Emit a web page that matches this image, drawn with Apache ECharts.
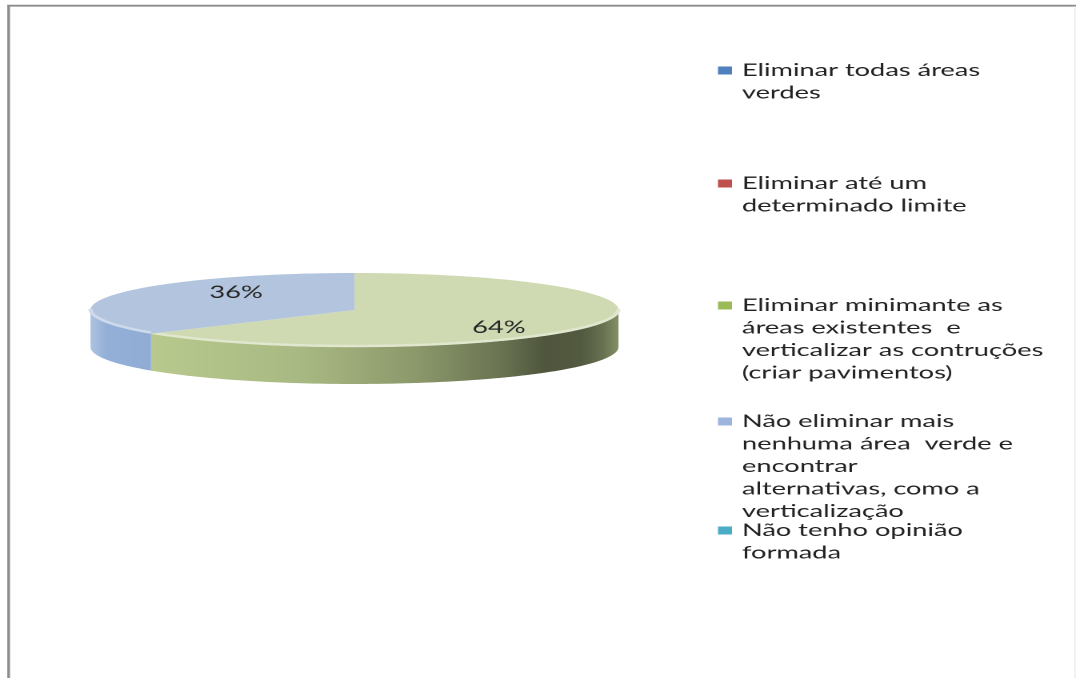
<!DOCTYPE html>
<html>
<head>
<meta charset="utf-8">
<script src="https://cdn.jsdelivr.net/npm/echarts@6/dist/echarts.min.js"></script>
<style>
  html, body { margin: 0; padding: 0; background: #fff; overflow: hidden; }
  #wrap { width: 1076px; height: 678px; overflow: hidden; position: relative; }
  #chart { position: absolute; left: 0; top: 0; height: 678px; transform-origin: 0 0; }
</style>
</head>
<body>
<div id="wrap"><div id="chart"></div></div>
<script>
// Survey answers, wrapped the way the legend shows them
const categoryLines = [
  ['Eliminar todas áreas', 'verdes'],
  ['Eliminar até um', 'determinado limite'],
  ['Eliminar minimante as', 'áreas existentes  e', 'verticalizar as contruções', '(criar pavimentos)'],
  ['Não eliminar mais', 'nenhuma área  verde e', 'encontrar', 'alternativas, como a', 'verticalização'],
  ['Não tenho opinião', 'formada']
];
const categories = categoryLines.map(l => l.join(' '));
const values = [0, 0, 64, 36, 0];

const legendColors = ['#4f81bd', '#c0504d', '#9bbb59', '#9db5dc', '#4bacc6'];
const topColors    = ['#a7bfe0', '#e0a9a8', '#cfdab3', '#b3c5de', '#a6d5e2'];
const sideColors   = ['#7d9fcf', '#cf7b79', '#bccd91', '#94b0d8', '#7bc1d5'];

// The whole drawing is stretched horizontally by this factor
const S = 1.6;
const X = v => v / S;

const total = values.reduce((a, b) => a + b, 0);
const cumulative = values.map((v, i) => values.slice(0, i).reduce((a, b) => a + b, 0));

// Flattened disc geometry (canvas px before stretching)
const CX = X(354.5), CY = 310, RX = X(264), RY = 37, DEPTH = 37;

function pt(deg, dy) {
  const r = deg * Math.PI / 180;
  return [CX + RX * Math.sin(r), CY - RY * Math.cos(r) + (dy || 0)];
}
function arc(a, b, dy) {
  const pts = [];
  const n = Math.max(2, Math.ceil(Math.abs(b - a)));
  for (let k = 0; k <= n; k++) pts.push(pt(a + (b - a) * k / n, dy));
  return pts;
}
function shade(hex, f) {
  const n = parseInt(hex.slice(1), 16);
  const ch = [(n >> 16) & 255, (n >> 8) & 255, n & 255].map(c => {
    const v = f >= 1 ? c + (255 - c) * (f - 1) * 2 : c * f;
    return Math.max(0, Math.min(255, Math.round(v)));
  });
  return 'rgb(' + ch.join(',') + ')';
}
function mixWhite(hex, t) {
  const n = parseInt(hex.slice(1), 16);
  const ch = [(n >> 16) & 255, (n >> 8) & 255, n & 255].map(c => Math.round(c + (255 - c) * t));
  return 'rgb(' + ch.join(',') + ')';
}
const sideStops = [[0, 1.12], [0.03, 1.0], [0.12, 0.98], [0.4, 0.9], [0.62, 0.74],
                   [0.78, 0.56], [0.86, 0.42], [0.93, 0.44], [0.97, 0.55], [1, 0.7]];

function sliceRenderer(idx) {
  return function (params, api) {
    const v = api.value(0);
    if (!v) return { type: 'group', children: [] };
    const a1 = cumulative[idx] / total * 360;
    const a2 = (cumulative[idx] + v) / total * 360;
    const children = [];

    // visible front wall
    const s = Math.max(a1, 90), e = Math.min(a2, 270);
    if (e > s) {
      const wall = arc(s, e, 0).concat(arc(e, s, DEPTH));
      const grad = new echarts.graphic.LinearGradient(CX - RX, 0, CX + RX, 0,
        sideStops.map(([o, f]) => ({ offset: o, color: shade(sideColors[idx], f) })), true);
      children.push({ type: 'polygon', shape: { points: wall }, style: { fill: grad } });
    }

    // top face
    children.push({
      type: 'polygon',
      shape: { points: [[CX, CY]].concat(arc(a1, a2, 0)) },
      style: { fill: topColors[idx] }
    });

    // light bevel along the front rim
    if (e > s) {
      children.push({
        type: 'polyline',
        shape: { points: arc(s, e, -1) },
        style: { stroke: mixWhite(topColors[idx], 0.35), lineWidth: 2.5, fill: null }
      });
    }

    // percentage label
    const mid = (a1 + a2) / 2 * Math.PI / 180;
    children.push({
      type: 'text',
      z2: 10,
      style: {
        text: Math.round(v / total * 100) + '%',
        x: CX + RX * 0.55 * Math.sin(mid) + X(13),
        y: CY - RY * 1.1 * Math.cos(mid),
        align: 'center',
        verticalAlign: 'middle',
        fill: '#262626',
        font: '17px Lato'
      }
    });
    return { type: 'group', children };
  };
}

// baseline of the first line of each legend entry
const legendBaselines = [77, 190, 312, 428, 537];
const LINE_H = 22.5;

const chartEl = document.getElementById('chart');
chartEl.style.width = (1076 / S) + 'px';
chartEl.style.transform = 'scaleX(' + S + ')';

const chart = echarts.init(chartEl, null, { devicePixelRatio: 2 });

chart.setOption({
  animation: false,
  backgroundColor: '#ffffff',
  graphic: [
    { type: 'rect', shape: { x: X(7.3), y: 5, width: X(2.7), height: 700 }, style: { fill: '#8c8c8c' } },
    { type: 'rect', shape: { x: X(7.3), y: 4.8, width: X(1080), height: 1.8 }, style: { fill: '#8c8c8c' } },
    { type: 'rect', shape: { x: X(1074.5), y: 6, width: X(1), height: 700 }, style: { fill: '#e4e4e4' } }
  ],
  legend: categories.map((name, i) => ({
    data: [name],
    orient: 'vertical',
    left: X(718) - 5,
    top: legendBaselines[i] - 15,
    padding: 0,
    itemWidth: 0,
    itemHeight: 0,
    icon: 'rect',
    itemStyle: { opacity: 0 },
    selectedMode: false,
    formatter: () => categoryLines[i]
      .map((l, j) => (j === 0 ? '{ic|}{g|}' : '{sp|}') + '{t|' + l + '}')
      .join('\n'),
    textStyle: {
      rich: {
        ic: { width: X(14), height: 8, backgroundColor: legendColors[i], verticalAlign: 'middle', lineHeight: LINE_H },
        g: { width: X(10), lineHeight: LINE_H },
        sp: { width: X(24), lineHeight: LINE_H },
        t: { fontFamily: 'Lato', fontSize: 17, color: '#222222', lineHeight: LINE_H }
      }
    }
  })),
  series: categories.map((name, i) => ({
    type: 'custom',
    name: name,
    coordinateSystem: 'none',
    color: legendColors[i],
    data: [[values[i]]],
    renderItem: sliceRenderer(i)
  }))
});
</script>
</body>
</html>
